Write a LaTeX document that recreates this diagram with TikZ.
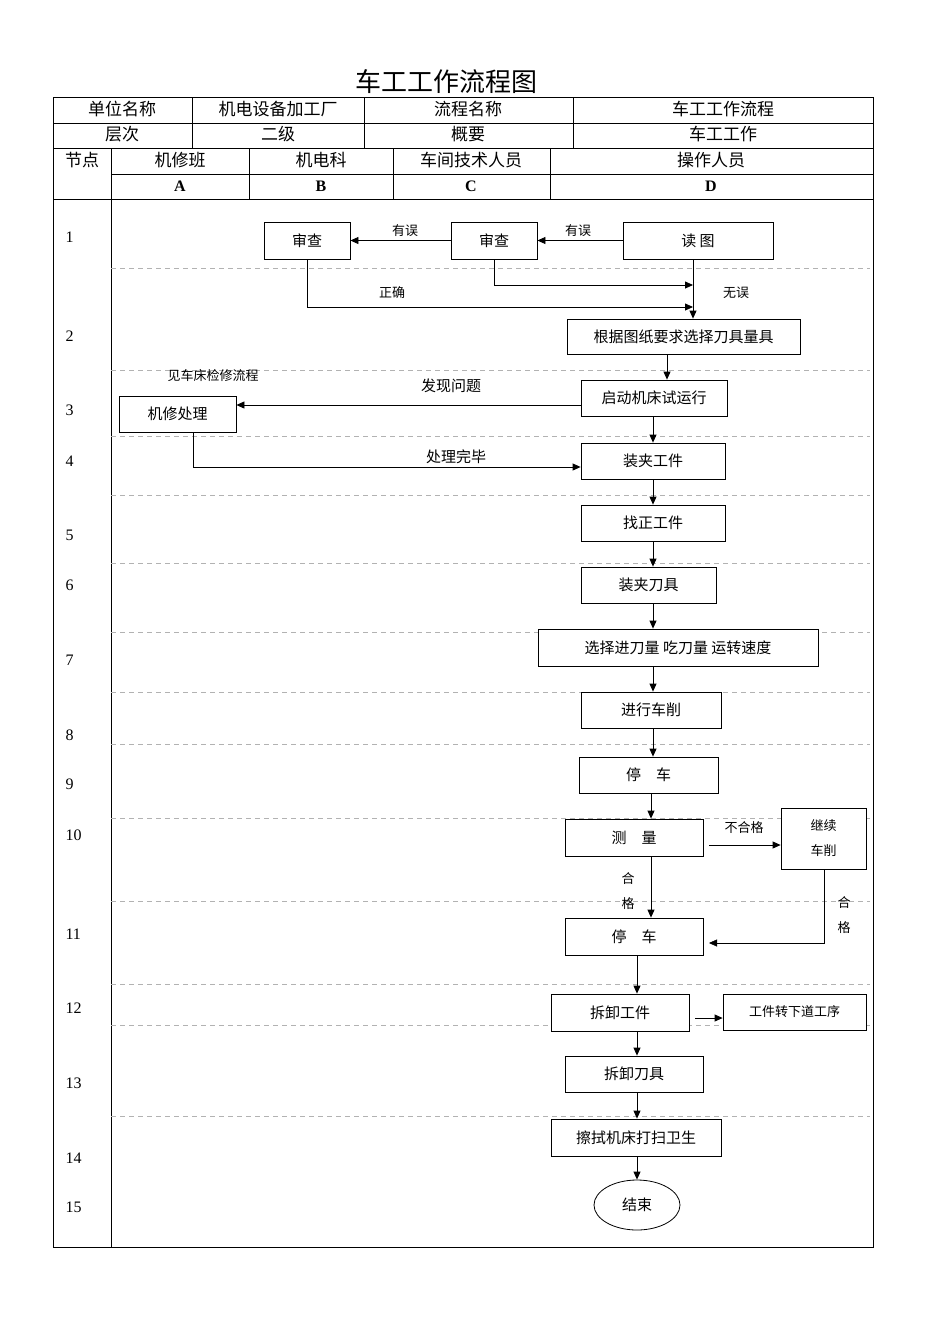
\documentclass[tikz,border=0pt]{standalone}
\usepackage{fontspec}
\setmainfont{Liberation Serif}
\newfontfamily\cjk{Noto Sans CJK SC}
\usetikzlibrary{arrows.meta,shapes.geometric}
\tikzset{
  stepbox/.style={draw,thick,fill=white,inner sep=0pt,font=\cjk\fontsize{15}{17}\selectfont},
  lbl/.style={font=\cjk\fontsize{13}{15}\selectfont},
  hd/.style={font=\cjk\fontsize{17}{19}\selectfont},
  rowline/.style={gray!60,dashed,dash pattern=on 5pt off 4pt},
  flow/.style={-{Triangle[length=8pt,width=7pt]},thick}
}
\newcommand{\bx}[6]{\node[stepbox,minimum width=#4-#2,minimum height=#5-#3] (#1) at ({(#2+#4)/2},{(#3+#5)/2}) {#6};}
\begin{document}
\begin{tikzpicture}[x=1pt,y=-1pt]
    \useasboundingbox (0,0) rectangle (950,1344);

    % title and header table
    \node[font=\cjk\fontsize{26}{28}\selectfont] (title) at (446,82) {车工工作流程图};
    \draw[semithick] (53,97) rectangle (873,1247);
    \foreach \y in {123,148} \draw (53,\y) -- (873,\y);
    \draw[thick] (53,199) -- (873,199);
    \draw (111,174) -- (873,174);
    \foreach \x in {192,364,573} \draw (\x,97) -- (\x,148);
    \draw (111,148) -- (111,1247);
    \foreach \x in {249,393,550} \draw (\x,148) -- (\x,199);
    \node[hd] at (122,109) {单位名称};
    \node[hd] at (278,109) {机电设备加工厂};
    \node[hd] at (468,109) {流程名称};
    \node[hd] at (723,109) {车工工作流程};
    \node[hd] at (122,134) {层次};
    \node[hd] at (278,134) {二级};
    \node[hd] at (468,134) {概要};
    \node[hd] at (723,134) {车工工作};
    \node[hd] at (82,160) {节点};
    \node[hd] at (180,160) {机修班};
    \node[hd] at (321,160) {机电科};
    \node[hd] at (471,160) {车间技术人员};
    \node[hd] at (711,160) {操作人员};
    \foreach \x/\t in {180/A,321/B,471/C,711/D}
      \node[font=\bfseries\fontsize{16}{18}\selectfont] at (\x,186) {\t};

    % row separators and numbers
    \foreach \y in {268,370,436,495,563,632,692,744,818,901,984,1025,1116}
      \draw[rowline] (111,\y) -- (870,\y);
    \foreach \n/\y in {1/237,2/336,3/410,4/461,5/535,6/585,7/660,8/735,9/784,10/835,11/934,12/1008,13/1083,14/1158,15/1207}
      \node[anchor=west,font=\fontsize{16}{18}\selectfont] at (62,\y) {\n};

    % steps
    \bx{check1}{264}{222}{350}{259}{审查}
    \bx{check2}{451}{222}{537}{259}{审查}
    \bx{read}{623}{222}{773}{259}{读\ 图}
    \bx{tools}{567}{319}{800}{354}{根据图纸要求选择刀具量具}
    \bx{start}{581}{380}{727}{416}{启动机床试运行}
    \bx{repair}{119}{396}{236}{432}{机修处理}
    \bx{clamp}{581}{443}{725}{479}{装夹工件}
    \bx{align}{581}{505}{725}{541}{找正工件}
    \bx{cutter}{581}{567}{716}{603}{装夹刀具}
    \bx{feed}{538}{629}{818}{666}{选择进刀量\ 吃刀量\ 运转速度}
    \bx{turn}{581}{692}{721}{728}{进行车削}
    \bx{stopa}{579}{757}{718}{793}{停\quad 车}
    \bx{measure}{565}{819}{703}{856}{测\quad 量}
    \node[stepbox,minimum width=85,minimum height=61,align=center,font=\cjk\fontsize{13}{25}\selectfont] (more) at (823.5,838.5) {继续\\车削};
    \bx{stopb}{565}{918}{703}{955}{停\quad 车}
    \bx{unload}{551}{994}{689}{1031}{拆卸工件}
    \node[stepbox,minimum width=143,minimum height=36,font=\cjk\fontsize{13}{15}\selectfont] (next) at (794.5,1012) {工件转下道工序};
    \bx{remove}{565}{1056}{703}{1092}{拆卸刀具}
    \bx{clean}{551}{1119}{721}{1156}{擦拭机床打扫卫生}
    \node[stepbox,ellipse,minimum width=86,minimum height=50] (end) at (637,1205) {结束};

    % connectors
    \draw[flow] (read.west) -- (check2.east);
    \node[lbl] at (578,231) {有误};
    \draw[flow] (check2.west) -- (check1.east);
    \node[lbl] at (405,231) {有误};
    \coordinate (jn) at (693,307);
    \draw[flow] (check1.south) |- (jn);
    \draw[flow] (check2.south) |- (693,285);
    \node[lbl] at (392,293) {正确};
    \draw[flow] (read.south -| jn) -- (jn |- tools.north);
    \node[lbl] at (736,293) {无误};
    \draw[flow] (tools.south -| 667,0) -- (start.north -| 667,0);
    \draw[flow] (start.west |- 0,405) -- (repair.east |- 0,405);
    \node[lbl,font=\cjk\fontsize{15}{17}\selectfont] at (451,386) {发现问题};
    \node[lbl] at (213,376) {见车床检修流程};
    \draw[flow] (repair.south -| 193,0) |- (clamp.west |- 0,467);
    \node[lbl,font=\cjk\fontsize{15}{17}\selectfont] at (456,457) {处理完毕};
    \draw[flow] (start.south -| 653,0) -- (clamp.north -| 653,0);
    \draw[flow] (clamp.south -| 653,0) -- (align.north -| 653,0);
    \draw[flow] (align.south -| 653,0) -- (cutter.north -| 653,0);
    \draw[flow] (cutter.south -| 653,0) -- (feed.north -| 653,0);
    \draw[flow] (feed.south -| 653,0) -- (turn.north -| 653,0);
    \draw[flow] (turn.south -| 653,0) -- (stopa.north -| 653,0);
    \draw[flow] (stopa.south -| 651,0) -- (measure.north -| 651,0);
    \draw[flow] (709,845) -- (more.west |- 0,845);
    \node[lbl] at (744,828) {不合格};
    \draw[flow] (measure.south -| 651,0) -- (stopb.north -| 651,0);
    \node[lbl] at (628,879) {合};
    \node[lbl] at (628,904) {格};
    \draw[flow,thin] (more.south -| 824,0) |- (709,943);
    \node[lbl] at (844,903) {合};
    \node[lbl] at (844,928) {格};
    \draw[flow] (stopb.south -| 637,0) -- (unload.north -| 637,0);
    \draw[flow] (695,1018) -- (next.west |- 0,1018);
    \draw[flow] (unload.south -| 637,0) -- (remove.north -| 637,0);
    \draw[flow] (remove.south -| 637,0) -- (clean.north -| 637,0);
    \draw[flow] (clean.south -| 637,0) -- (end.north);
\end{tikzpicture}
\end{document}
